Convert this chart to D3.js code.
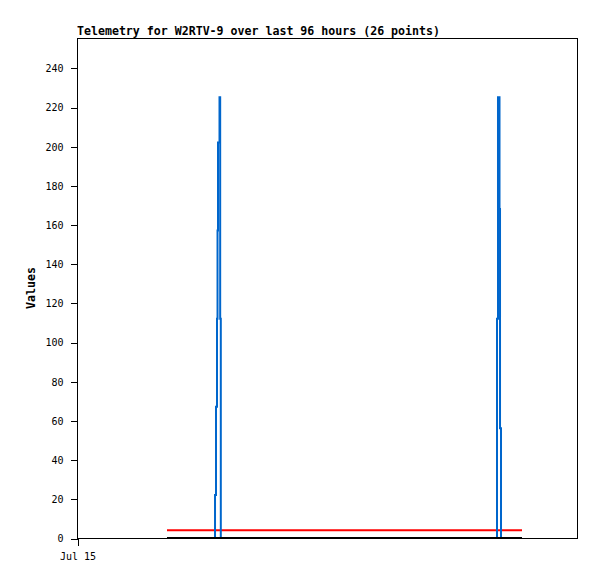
<!DOCTYPE html>
<html>
<head>
<meta charset="utf-8">
<script src="https://cdn.jsdelivr.net/npm/d3@7"></script>
<style>
  body { margin: 0; background: #fff; }
  svg { display: block; }
  .axis text { font-family: "DejaVu Sans Mono", monospace; font-size: 10px; fill: #000; }
  .axis line { stroke: #000; }
</style>
</head>
<body>
<svg id="chart"></svg>
<script>
// values (hours after Jul 15 00:00)
const startDate = new Date(2023, 6, 15);
const yTicks = [0, 20, 40, 60, 80, 100, 120, 140, 160, 180, 200, 220, 240];
const xTickHours = [0];

const blueHours  = [26.4, 26.50, 26.69, 26.88, 26.98, 27.07, 27.36, 27.49, 27.61, 80.55, 80.64, 80.83, 81.12, 81.22, 81.41];
const blueValues = [0, 22, 67, 112, 157, 202, 225, 112, 0, 0, 112, 225, 168, 56, 0];
const redHours   = [17.28, 85.44];
const redValues  = [4, 4];
const blackHours = [17.28, 85.44];
const blackValues = [0, 0];

var margin = { top: 38, right: 20, bottom: 41, left: 77 };
var width = 597 - margin.left - margin.right;   // 500
var height = 579 - margin.top - margin.bottom;  // 500

const hour = h => new Date(startDate.getTime() + h * 3600 * 1000);

const svg = d3.select("#chart").attr("width", 597).attr("height", 579);

const xScale = d3.scaleTime()
  .domain([startDate, hour(96)])
  .range([margin.left, margin.left + width]);
const yScale = d3.scaleLinear()
  .domain([0, 255.3])
  .range([margin.top + height, margin.top]);

// title
svg.append("text")
  .attr("x", margin.left)
  .attr("y", 35)
  .style("font-family", "DejaVu Sans Mono, monospace")
  .style("font-weight", "bold")
  .style("font-size", "11.6px")
  .text("Telemetry for W2RTV-9 over last 96 hours (26 points)");

// y label
svg.append("text")
  .attr("transform", `translate(35, ${margin.top + height / 2}) rotate(-90)`)
  .attr("text-anchor", "middle")
  .style("font-family", "DejaVu Sans Mono, monospace")
  .style("font-weight", "bold")
  .style("font-size", "11.6px")
  .text("Values");

// series, red under blue, black on top
function drawSeries(hours, values, color) {
  const pts = hours.map((h, i) => [xScale(hour(h)), yScale(values[i])]);
  svg.append("path")
    .attr("d", d3.line().curve(d3.curveStepAfter)(pts))
    .attr("fill", "none")
    .attr("stroke", color)
    .attr("stroke-width", 2);
}
drawSeries(redHours, redValues, "#ff0000");
drawSeries(blueHours, blueValues, "#0066cc");
drawSeries(blackHours, blackValues, "#000000");

// frame
svg.append("rect")
  .attr("x", margin.left + 0.5)
  .attr("y", margin.top + 0.5)
  .attr("width", width)
  .attr("height", height)
  .attr("fill", "none")
  .attr("stroke", "#000")
  .attr("shape-rendering", "crispEdges");

const yAxis = svg.append("g")
  .attr("class", "axis")
  .attr("transform", `translate(${margin.left + 0.5},0.5)`)
  .call(d3.axisLeft(yScale).tickValues(yTicks).tickSize(7).tickSizeOuter(0).tickPadding(7));
yAxis.select(".domain").remove();
yAxis.selectAll("line").attr("shape-rendering", "crispEdges");

const xAxis = svg.append("g")
  .attr("class", "axis")
  .attr("transform", `translate(0.5,${margin.top + height + 0.5})`)
  .call(d3.axisBottom(xScale).tickValues(xTickHours.map(hour)).tickSize(7).tickSizeOuter(0).tickPadding(7)
    .tickFormat(d3.timeFormat("%b %d")));
xAxis.select(".domain").remove();
xAxis.selectAll("line").attr("shape-rendering", "crispEdges");
</script>
</body>
</html>
